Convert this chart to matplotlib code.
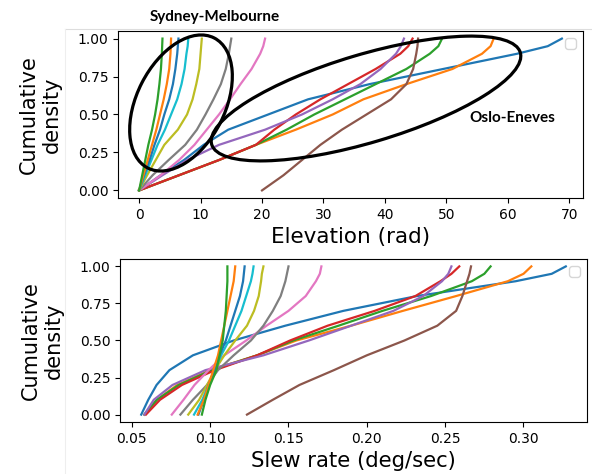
import numpy as np
import matplotlib.pyplot as plt
from matplotlib.patches import Ellipse
from matplotlib.lines import Line2D

# cumulative density levels shared by every curve
levels = [0, 0.1, 0.2, 0.3, 0.4, 0.5, 0.6, 0.7, 0.8, 0.9, 0.95, 1.0]

# elevation values read at each level (one list per link)
elev = [
    [0, 3.5, 7.3, 10.5, 14.5, 21, 27.5, 37.5, 49.5, 61.5, 66.5, 68.8],
    [0, 6.5, 13, 19, 25.5, 31.5, 36.5, 43.5, 51, 55.8, 57.2, 57.7],
    [0, 6.5, 13, 19, 24, 28.5, 33.5, 38.5, 43.5, 47.3, 48.7, 49.3],
    [0, 6.5, 13, 19, 22, 25.5, 29.5, 34, 38.5, 42.5, 43.8, 44.5],
    [0, 3.8, 7.8, 13, 20.5, 26.5, 31.5, 36, 39.3, 41.8, 42.6, 43.1],
    [20, 23.5, 26.5, 29.5, 33, 37, 41, 43.5, 44.6, 45.1, 45.3, 45.4],
    [0, 3.5, 6.5, 9, 11, 13, 14.8, 16.5, 18.3, 19.7, 20.2, 20.5],
    [0, 2.2, 4.8, 7.5, 9.4, 10.8, 12.1, 13.3, 14.1, 14.6, 14.8, 15.0],
    [0, 1.3, 2.7, 4.1, 6.3, 7.8, 8.7, 9.3, 9.8, 10.0, 10.1, 10.2],
    [0, 1.0, 2.0, 3.0, 4.2, 5.2, 6.2, 6.9, 7.4, 7.7, 7.9, 8.0],
    [0, 0.8, 1.7, 2.5, 3.4, 4.1, 4.9, 5.5, 5.9, 6.2, 6.3, 6.4],
    [0, 0.7, 1.4, 2.1, 2.8, 3.4, 4.0, 4.5, 4.9, 5.1, 5.15, 5.2],
    [0, 0.5, 1.0, 1.5, 2.1, 2.6, 3.0, 3.3, 3.55, 3.7, 3.75, 3.8],
]

# slew rate values read at each level
slew = [
    [0.056, 0.0605, 0.0658, 0.074, 0.089, 0.115, 0.148, 0.185, 0.232, 0.295, 0.318, 0.327],
    [0.058, 0.066, 0.079, 0.1, 0.13, 0.155, 0.19, 0.223, 0.257, 0.29, 0.3, 0.305],
    [0.058, 0.066, 0.08, 0.101, 0.13, 0.153, 0.182, 0.21, 0.241, 0.267, 0.275, 0.279],
    [0.059, 0.068, 0.082, 0.103, 0.13, 0.151, 0.175, 0.205, 0.231, 0.247, 0.254, 0.259],
    [0.058, 0.064, 0.076, 0.097, 0.134, 0.163, 0.19, 0.217, 0.236, 0.248, 0.252, 0.254],
    [0.1235, 0.14, 0.157, 0.179, 0.2, 0.224, 0.245, 0.257, 0.261, 0.264, 0.2655, 0.2665],
    [0.0755, 0.083, 0.09, 0.099, 0.109, 0.123, 0.136, 0.15, 0.161, 0.1675, 0.17, 0.171],
    [0.081, 0.089, 0.098, 0.105, 0.115, 0.126, 0.134, 0.14, 0.145, 0.148, 0.149, 0.150],
    [0.086, 0.093, 0.098, 0.103, 0.109, 0.116, 0.1235, 0.128, 0.131, 0.1325, 0.133, 0.134],
    [0.0897, 0.095, 0.099, 0.103, 0.107, 0.112, 0.116, 0.12, 0.123, 0.126, 0.127, 0.1277],
    [0.0925, 0.096, 0.099, 0.103, 0.106, 0.11, 0.113, 0.116, 0.119, 0.121, 0.1215, 0.122],
    [0.092, 0.096, 0.099, 0.102, 0.105, 0.107, 0.109, 0.111, 0.113, 0.115, 0.1155, 0.116],
    [0.0947, 0.097, 0.1, 0.104, 0.106, 0.108, 0.109, 0.11, 0.1105, 0.111, 0.111, 0.111],
]

fig = plt.figure(figsize=(5.92, 4.74), dpi=100)
ax1 = fig.add_axes([0.1993, 0.5823, 0.7855, 0.3523])
ax2 = fig.add_axes([0.2027, 0.1097, 0.7889, 0.3439])

for xs in elev:
    ax1.plot(xs, levels, lw=1.6)
for xs in slew:
    ax2.plot(xs, levels, lw=1.6)

ax1.set_xlabel('Elevation (rad)', fontsize=15.5)
ax2.set_xlabel('Slew rate (deg/sec)', fontsize=15.2)
for ax in (ax1, ax2):
    ax.set_ylabel('Cumulative\ndensity', fontsize=15)
    ax.yaxis.set_label_coords(-0.12, 0.5)
    ax.tick_params(labelsize=10)
    ax.set_yticks([0, 0.25, 0.5, 0.75, 1.0])
    ax.legend(loc='upper right')

# hand drawn group markers
fig.add_artist(Ellipse((1.81, 3.71), 1.46, 0.88, angle=63, fill=False, lw=2.3,
                       color='black', transform=fig.dpi_scale_trans))
fig.add_artist(Ellipse((3.66, 3.755), 3.22, 0.88, angle=16.6, fill=False, lw=2.3,
                       color='black', transform=fig.dpi_scale_trans))
fig.text(215 / 592, 1 - 17 / 474, 'Sydney-Melbourne', fontsize=11, fontweight='bold',
         family='Lato', ha='center', va='center')
fig.text(512 / 592, 1 - 118 / 474, 'Oslo-Eneves', fontsize=11, fontweight='bold',
         family='Lato', ha='center', va='center')

# faint frame lines from the screenshot
fig.add_artist(Line2D([65 / 592, 1], [1 - 28.5 / 474] * 2, color='#dddddd', lw=0.8))
fig.add_artist(Line2D([65 / 592] * 2, [0, 1 - 28.5 / 474], color='#eeeeee', lw=0.8))

fig.savefig('out.png', dpi=100)
